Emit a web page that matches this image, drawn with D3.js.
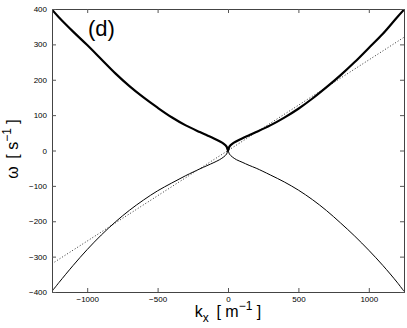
<!DOCTYPE html>
<html><head><meta charset="utf-8">
<script src="https://cdn.jsdelivr.net/npm/d3@7"></script>
<style>
html,body{margin:0;padding:0;background:#fff;}
svg{display:block;font-family:"Liberation Sans",Arial,sans-serif;}
</style></head>
<body><svg id="c" width="407" height="328"></svg>
<script>
// k_x values (m^-1) sampled along the curves
const kValues = [-1250,-1200,-1100,-1000,-900,-800,-700,-600,-500,-400,-300,-200,-150,-100,-60,-30,-10,0,10,30,60,100,150,200,300,400,500,600,700,800,900,1000,1100,1200,1250];
// upper branch (thick), omega in s^-1
const upperOmega = [398,376,336,298,258,218,182,150,121,94,71,52,43,34,26,19,11,0,11,19,26,34,43,52,71,93,118,147,179,213,250,290,330,376,398];
// lower branch (thin), omega in s^-1
const lowerOmega = [-398,-373,-325,-280,-239,-202,-169,-140,-114,-92,-71,-52,-43,-34,-26,-18,-10,0,-10,-18,-26,-33,-42,-50,-69,-89,-112,-139,-170,-205,-242,-282,-325,-372,-398];
// dotted reference line
const dottedK = [-1250,1250];
const dottedOmega = [-320,320];
// ticks
const xTicks = [-1000,-500,0,500,1000];
const yTicks = [-400,-300,-200,-100,0,100,200,300,400];
const panelLabel = "(d)";

const svg = d3.select("#c");
const L=52, R=404, T=9, B=292;
const x = d3.scaleLinear().domain([-1250,1250]).range([L,R]);
const y = d3.scaleLinear().domain([-400,400]).range([B,T]);
const fmt = v => v<0 ? "\u2212"+Math.abs(v) : String(v);

svg.append("clipPath").attr("id","pc").append("rect")
  .attr("x",L).attr("y",T-2).attr("width",R-L).attr("height",B-T+4);

const g = svg.append("g").attr("clip-path","url(#pc)");
const line = d3.line().x(d=>x(d[0])).y(d=>y(d[1])).curve(d3.curveCatmullRom.alpha(0.5));

g.append("path").datum(dottedK.map((k,i)=>[k,dottedOmega[i]]))
  .attr("d", d3.line().x(d=>x(d[0])).y(d=>y(d[1])))
  .attr("fill","none").attr("stroke","#333").attr("stroke-width",1).attr("stroke-dasharray","1,2");
g.append("path").datum(kValues.map((k,i)=>[k,lowerOmega[i]]))
  .attr("d", line).attr("fill","none").attr("stroke","#000").attr("stroke-width",1);
g.append("path").datum(kValues.map((k,i)=>[k,upperOmega[i]]))
  .attr("d", line).attr("fill","none").attr("stroke","#000").attr("stroke-width",2.2);

// axes (MATLAB style: box, inward ticks on all sides)
const ax = svg.append("g");
ax.append("g").attr("transform",`translate(0,${B})`)
  .call(d3.axisBottom(x).tickValues(xTicks).tickSize(-4).tickPadding(4).tickFormat(fmt));
ax.append("g").attr("transform",`translate(0,${T})`)
  .call(d3.axisTop(x).tickValues(xTicks).tickSize(-4).tickFormat(""));
ax.append("g").attr("transform",`translate(${L},0)`)
  .call(d3.axisLeft(y).tickValues(yTicks).tickSize(-4).tickPadding(5).tickFormat(fmt));
ax.append("g").attr("transform",`translate(${R},0)`)
  .call(d3.axisRight(y).tickValues(yTicks).tickSize(-4).tickFormat(""));
ax.selectAll(".domain").attr("stroke","#444").attr("stroke-width",1);
ax.selectAll(".tick line").attr("stroke","#555");
ax.selectAll(".tick text").attr("font-size",8).attr("fill","#000")
  .attr("font-family","Liberation Sans, Arial, sans-serif");

// panel label
svg.append("text").attr("x",88).attr("y",36).attr("font-size",22).text(panelLabel);

// x axis label: k_x [ m^-1 ]
const xl = svg.append("text").attr("x",228).attr("y",317).attr("text-anchor","middle").attr("font-size",16);
xl.append("tspan").text("k");
xl.append("tspan").attr("dy",5).attr("font-size",12).text("x");
xl.append("tspan").attr("dy",-5).text("\u2009 [ m");
xl.append("tspan").attr("dy",-7).attr("font-size",12).text("\u22121");
xl.append("tspan").attr("dy",7).text(" ]");

// y axis label: ω [ s^-1 ]
const ylab = svg.append("text").attr("transform","translate(18,149) rotate(-90)")
  .attr("text-anchor","middle").attr("font-size",16);
ylab.append("tspan").text("\u03c9\u2009 [ s");
ylab.append("tspan").attr("dy",-7).attr("font-size",12).text("\u22121");
ylab.append("tspan").attr("dy",7).text(" ]");
</script></body></html>
